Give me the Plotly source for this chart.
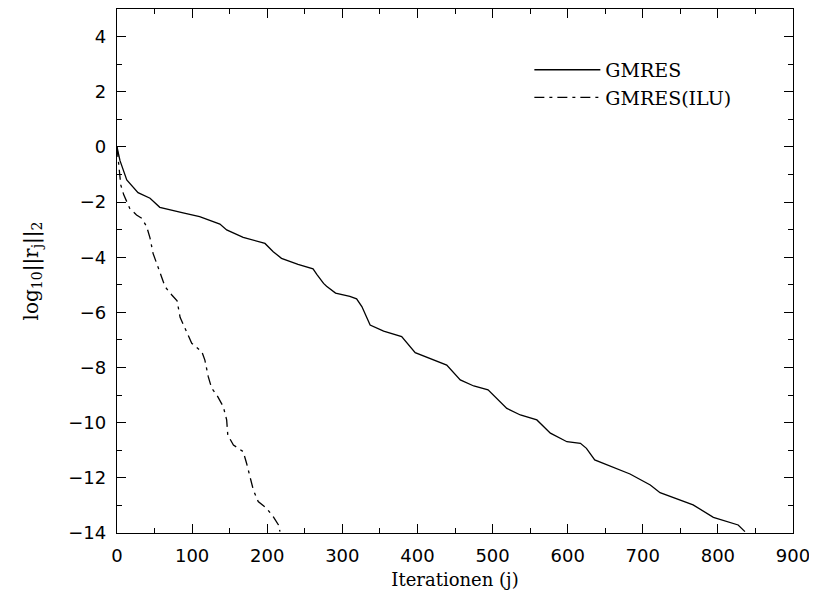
import plotly.graph_objects as go

# GMRES (unpreconditioned) residual history
gmres_x = [0, 4, 13, 28, 44, 57, 88, 110, 137, 146, 168, 197, 208, 219, 241, 261, 266, 275,
           279, 291, 310, 319, 326, 337, 355, 379, 397, 421, 439, 457, 475, 494, 519, 537,
           559, 577, 599, 617, 625, 636, 652, 683, 710, 723, 767, 781, 794, 827, 836]
gmres_y = [0.0, -0.5, -1.2, -1.66, -1.86, -2.19, -2.39, -2.53, -2.8, -3.01, -3.28, -3.5, -3.8,
           -4.04, -4.26, -4.42, -4.62, -4.95, -5.05, -5.3, -5.42, -5.51, -5.79, -6.46, -6.68,
           -6.88, -7.46, -7.73, -7.91, -8.45, -8.67, -8.81, -9.48, -9.72, -9.9, -10.38,
           -10.69, -10.75, -10.93, -11.35, -11.53, -11.86, -12.26, -12.54, -12.98, -13.23,
           -13.43, -13.71, -13.95]

# GMRES with ILU preconditioning
ilu_x = [0, 4, 5, 9, 17, 26, 33, 39.5, 44, 48, 57, 64, 73, 80, 84, 90.5, 99.5, 113, 117,
         121.5, 126, 133, 141.5, 146, 147.5, 155, 168, 172.5, 177, 181.5, 188, 199, 208,
         215, 217]
ilu_y = [0.0, -0.96, -1.38, -1.74, -2.23, -2.47, -2.59, -2.89, -3.31, -3.86, -4.58, -5.07,
         -5.37, -5.58, -6.18, -6.58, -7.12, -7.43, -7.73, -8.33, -8.75, -9.0, -9.42, -9.9,
         -10.45, -10.81, -11.05, -11.47, -11.96, -12.44, -12.86, -13.1, -13.41, -13.71, -13.95]

x_ticks = [0, 100, 200, 300, 400, 500, 600, 700, 800, 900]
y_ticks = [4, 2, 0, -2, -4, -6, -8, -10, -12, -14]

SERIF = "DejaVu Serif, Liberation Serif, serif"
SANS = "DejaVu Sans, Liberation Sans, sans-serif"

fig = go.Figure()
fig.add_trace(go.Scatter(x=gmres_x, y=gmres_y, mode="lines", name="GMRES",
                         line=dict(color="black", width=1.3)))
fig.add_trace(go.Scatter(x=ilu_x, y=ilu_y, mode="lines", name="GMRES(ILU)",
                         line=dict(color="black", width=1.3, dash="10px,5px,3px,5px")))

axis_common = dict(
    showline=True, linecolor="black", linewidth=1.3, mirror="allticks",
    ticks="inside", ticklen=9, tickwidth=1.2, tickcolor="black",
    showgrid=False, zeroline=False,
    tickfont=dict(family=SANS, size=18, color="black"),
)

fig.update_xaxes(range=[0, 900], tickvals=x_ticks, ticklabelstandoff=6,
                 minor=dict(dtick=50, ticks="inside", ticklen=5, tickwidth=1.2,
                            tickcolor="black", showgrid=False),
                 title=dict(text="Iterationen (j)",
                            font=dict(family=SERIF, size=18, color="black"), standoff=8),
                 **axis_common)
fig.update_yaxes(range=[-14, 5], tickvals=y_ticks, ticklabelstandoff=6,
                 minor=dict(dtick=1, ticks="inside", ticklen=5, tickwidth=1.2,
                            tickcolor="black", showgrid=False),
                 title=dict(text="log<sub>10</sub>||r<sub>j</sub>||<sub>2</sub>",
                            font=dict(family=SERIF, size=20, color="black"), standoff=24),
                 **axis_common)

# page body has an 8px margin, so the figure is offset by 8px in the window
fig.update_layout(
    width=809, height=594,
    margin=dict(l=109, r=24, t=1, b=69),
    plot_bgcolor="white", paper_bgcolor="white",
    legend=dict(x=0.61, y=0.92, xanchor="left", yanchor="top",
                bgcolor="rgba(0,0,0,0)",
                font=dict(family=SERIF, size=19, color="black"),
                itemwidth=66, tracegroupgap=0),
)

fig.write_html("out.html")
